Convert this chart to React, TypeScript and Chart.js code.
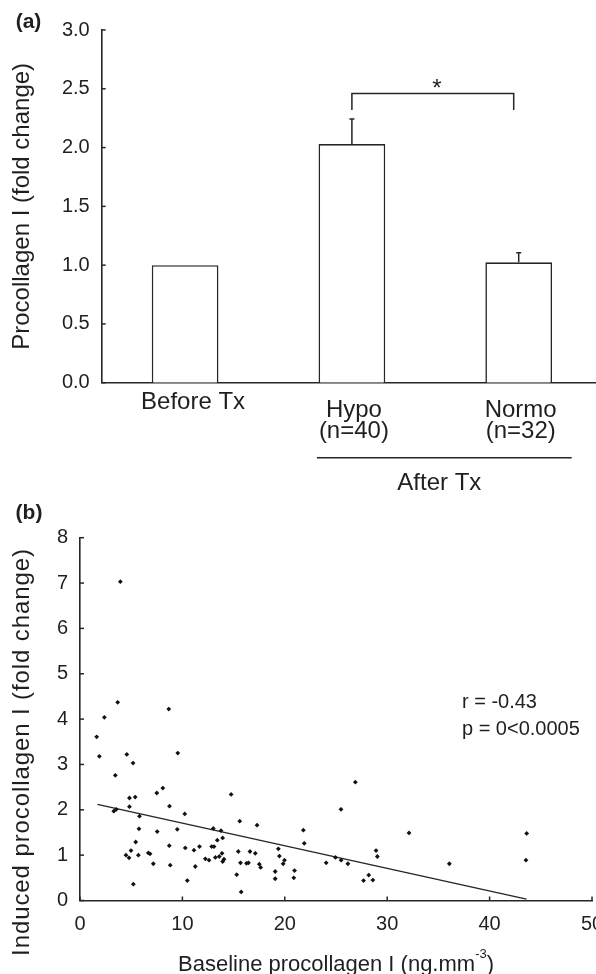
import React, { useEffect, useRef } from "react";
import { Chart, registerables } from "chart.js";

Chart.register(...registerables);

const FONT = '"Liberation Sans", Arial, Helvetica, sans-serif';
const INK = "#262626";
const TEXT = "#1f1f1f";

// ---------- Panel (a) data ----------
const groupLabels = [["Before Tx"], ["Hypo", "(n=40)"], ["Normo", "(n=32)"]];
const groupMeans = [1.0, 2.03, 1.024];
const groupUpperErr = [0, 0.212, 0.081];
const groupSpanLabel = "After Tx";
const yTicksA = [0, 0.5, 1.0, 1.5, 2.0, 2.5, 3.0];
const yTitleA = "Procollagen I (fold change)";
const sigPair = [1, 2];
const sigLevels = [2.46, 2.32];
const sigMark = "*";

// ---------- Panel (b) data ----------
const baselineX = [
  1.63, 1.89, 2.38, 3.68, 3.45, 3.3, 3.54, 4.57, 5.18, 4.83, 5.39, 4.83, 5.81, 8.67, 9.55, 7.5, 8.09, 8.74, 10.23, 14.76, 3.94,
  4.49, 4.79, 4.98, 5.44, 5.21, 5.7, 5.76, 6.67, 6.84, 7.16, 7.54, 8.72, 8.81, 9.5, 10.28, 10.48, 11.13, 11.26, 11.67, 12.24,
  12.6, 12.86, 13.09, 13.02, 13.22, 13.41, 13.6, 13.77, 13.93, 13.93, 13.87, 14.06, 15.3, 15.46, 15.6, 15.67, 15.74, 16.26,
  16.45, 16.6, 17.12, 17.29, 17.51, 17.64,
  19.37, 19.47, 19.06, 19.06, 19.97, 19.84, 20.95, 20.88, 21.81, 21.9, 24.04, 24.95, 25.5, 26.16, 25.49, 26.89, 27.69, 28.2,
  28.6, 28.91, 29.04, 32.13, 36.07, 43.62, 43.55,
];
const inducedY = [
  3.61, 3.18, 4.04, 4.37, 2.76, 1.97, 2.01, 3.22, 3.03, 2.26, 2.28, 2.07, 1.86, 4.22, 3.25, 2.37, 2.48, 2.08, 1.91, 2.34, 7.03,
  1.0, 0.94, 1.1, 1.29, 0.36, 1.0, 1.58, 1.05, 1.03, 0.81, 1.52, 1.21, 0.78, 1.57, 1.16, 0.44, 1.11, 0.75, 1.19, 0.92,
  0.89, 1.19, 1.19, 1.59, 0.95, 1.33, 0.97, 1.54, 1.38, 0.86, 1.04, 0.91, 0.57, 1.08, 1.75, 0.83, 0.19, 0.82,
  0.83, 1.08, 1.04, 1.66, 0.8, 0.73,
  1.14, 0.98, 0.64, 0.48, 0.89, 0.81, 0.66, 0.5, 1.55, 1.26, 0.83, 0.95, 0.89, 0.81, 2.01, 2.61, 0.44, 0.56,
  0.45, 1.1, 0.97, 1.49, 0.81, 1.48, 0.89,
];
const fitX = [1.7, 43.6];
const fitY = [2.12, 0.03];
const xTicksB = [0, 10, 20, 30, 40, 50];
const yTicksB = [0, 1, 2, 3, 4, 5, 6, 7, 8];
const yTitleB = "Induced procollagen I (fold change)";
const xTitleB = ["Baseline procollagen I (ng.mm", "-3", ")"];
const statLines = ["r = -0.43", "p = 0<0.0005"];
const statAnchor = [37.3, 4.24];

function drawInwardTicks(chart: any, axes: string[]) {
  const { ctx, chartArea } = chart;
  ctx.save();
  ctx.strokeStyle = INK;
  ctx.lineWidth = 1.5;
  for (const id of axes) {
    const s = chart.scales[id];
    s.ticks.forEach((t: any) => {
      const p = s.getPixelForValue(t.value);
      ctx.beginPath();
      if (s.isHorizontal()) {
        ctx.moveTo(p, chartArea.bottom);
        ctx.lineTo(p, chartArea.bottom - 4);
      } else {
        ctx.moveTo(chartArea.left, p);
        ctx.lineTo(chartArea.left + 4, p);
      }
      ctx.stroke();
    });
  }
  ctx.restore();
}

const annotA = {
  id: "annotA",
  afterDraw(chart: any) {
    const { ctx, chartArea } = chart;
    const y = chart.scales.y;
    const meta = chart.getDatasetMeta(0);
    drawInwardTicks(chart, ["y"]);
    ctx.save();
    ctx.strokeStyle = INK;
    ctx.lineWidth = 1.5;
    groupMeans.forEach((m, i) => {
      const e = groupUpperErr[i];
      if (!e) return;
      const bx = meta.data[i].x;
      const y0 = y.getPixelForValue(m);
      const y1 = y.getPixelForValue(m + e);
      ctx.beginPath();
      ctx.moveTo(bx, y0);
      ctx.lineTo(bx, y1);
      ctx.moveTo(bx - 2.5, y1);
      ctx.lineTo(bx + 2.5, y1);
      ctx.stroke();
    });
    const xa = meta.data[sigPair[0]].x;
    const xb = meta.data[sigPair[1]].x - 5;
    const yt = y.getPixelForValue(sigLevels[0]);
    const yl = y.getPixelForValue(sigLevels[1]);
    ctx.beginPath();
    ctx.moveTo(xa, yl);
    ctx.lineTo(xa, yt);
    ctx.lineTo(xb, yt);
    ctx.lineTo(xb, yl);
    ctx.stroke();

    ctx.fillStyle = TEXT;
    ctx.textAlign = "center";
    ctx.textBaseline = "alphabetic";
    ctx.font = `24px ${FONT}`;
    ctx.fillText(sigMark, (xa + xb) / 2 + 4, yt + 3);

    const b = chartArea.bottom;
    groupLabels.forEach((lines, i) => {
      const bx = meta.data[i].x;
      if (lines.length === 1) {
        ctx.fillText(lines[0], bx + 8, b + 26.6);
      } else {
        ctx.fillText(lines[0], bx + 2, b + 34);
        ctx.fillText(lines[1], bx + 2, b + 55);
      }
    });
    const x1 = meta.data[1].x;
    const x2 = meta.data[2].x;
    ctx.beginPath();
    ctx.moveTo(x1 - 35, b + 75);
    ctx.lineTo(x2 + 53, b + 75);
    ctx.stroke();
    ctx.fillText(groupSpanLabel, (x1 + x2) / 2 + 4, b + 107.3);

    // y title
    ctx.save();
    ctx.translate(29.3, (chartArea.top + chartArea.bottom) / 2);
    ctx.rotate(-Math.PI / 2);
    ctx.fillText(yTitleA, 0, 0);
    ctx.restore();

    ctx.font = `bold 21px ${FONT}`;
    ctx.fillText("(a)", 28.5, 27.6);
    ctx.restore();
  },
};

const annotB = {
  id: "annotB",
  afterDraw(chart: any) {
    const { ctx, chartArea } = chart;
    const xs = chart.scales.x;
    const ys = chart.scales.y;
    drawInwardTicks(chart, ["x", "y"]);
    ctx.save();
    ctx.fillStyle = TEXT;
    ctx.textBaseline = "alphabetic";

    ctx.textAlign = "center";
    ctx.font = `bold 21px ${FONT}`;
    ctx.fillText("(b)", 29, 39);

    // y title
    ctx.save();
    ctx.font = `24px ${FONT}`;
    (ctx as any).letterSpacing = "0.9px";
    ctx.translate(29.3, 272);
    ctx.rotate(-Math.PI / 2);
    ctx.fillText(yTitleB, 0, 0);
    ctx.restore();

    // x title with superscript
    const mainFont = `22px ${FONT}`;
    const supFont = `13px ${FONT}`;
    ctx.font = mainFont;
    const w1 = ctx.measureText(xTitleB[0]).width;
    const w3 = ctx.measureText(xTitleB[2]).width;
    ctx.font = supFont;
    const w2 = ctx.measureText(xTitleB[1]).width;
    const total = w1 + w2 + w3;
    const cx = (chartArea.left + chartArea.right) / 2;
    let sx = cx - total / 2;
    const base = 491;
    ctx.textAlign = "left";
    ctx.font = mainFont;
    ctx.fillText(xTitleB[0], sx, base);
    sx += w1;
    ctx.font = supFont;
    ctx.fillText(xTitleB[1], sx, base - 13);
    sx += w2;
    ctx.font = mainFont;
    ctx.fillText(xTitleB[2], sx, base);

    // stats
    ctx.font = `20px ${FONT}`;
    const px = xs.getPixelForValue(statAnchor[0]);
    const py = ys.getPixelForValue(statAnchor[1]);
    statLines.forEach((t, i) => ctx.fillText(t, px, py + i * 27));
    ctx.restore();
  },
};

export default function App() {
  const refA = useRef<HTMLCanvasElement>(null);
  const refB = useRef<HTMLCanvasElement>(null);

  useEffect(() => {
    const chartA = new Chart(refA.current as HTMLCanvasElement, {
      type: "bar",
      data: {
        labels: groupLabels.map((l) => l.join(" ")),
        datasets: [
          {
            data: groupMeans,
            backgroundColor: "#ffffff",
            borderColor: INK,
            borderWidth: 1.6,
            borderSkipped: "bottom",
            barPercentage: 0.4,
            categoryPercentage: 1,
          },
        ],
      },
      options: {
        responsive: false,
        animation: false,
        devicePixelRatio: 1,
        layout: { padding: { left: 0, top: 30, right: 7.9, bottom: 117.3 } },
        plugins: { legend: { display: false }, tooltip: { enabled: false } },
        scales: {
          x: {
            grid: { display: false, drawTicks: false },
            ticks: { display: false },
            border: { display: true, color: INK, width: 1.6 },
          },
          y: {
            min: 0,
            max: 3,
            afterBuildTicks: (s: any) => {
              s.ticks = yTicksA.map((v) => ({ value: v }));
            },
            ticks: {
              callback: (v: any) => Number(v).toFixed(1),
              font: { family: FONT, size: 20 },
              color: TEXT,
              padding: 12,
            },
            grid: { display: false, drawTicks: false },
            border: { display: true, color: INK, width: 1.6 },
            afterFit: (s: any) => {
              s.width = 101.7;
            },
          },
        },
      },
      plugins: [annotA],
    } as any);

    const chartB = new Chart(refB.current as HTMLCanvasElement, {
      type: "scatter",
      data: {
        datasets: [
          {
            data: baselineX.map((x, i) => ({ x, y: inducedY[i] })),
            pointStyle: "rectRot",
            pointRadius: 2.4,
            pointBackgroundColor: "#111",
            pointBorderWidth: 0,
            showLine: false,
          },
          {
            data: fitX.map((x, i) => ({ x, y: fitY[i] })),
            showLine: true,
            borderColor: INK,
            borderWidth: 1.5,
            pointRadius: 0,
          },
        ],
      },
      options: {
        responsive: false,
        animation: false,
        devicePixelRatio: 1,
        layout: { padding: { left: 0, top: 57.7, right: 4, bottom: 37.5 } },
        plugins: { legend: { display: false }, tooltip: { enabled: false } },
        scales: {
          x: {
            type: "linear",
            min: 0,
            max: 50,
            afterBuildTicks: (s: any) => {
              s.ticks = xTicksB.map((v) => ({ value: v }));
            },
            ticks: { font: { family: FONT, size: 20 }, color: TEXT, padding: 12 },
            grid: { display: false, drawTicks: false },
            border: { display: true, color: INK, width: 1.6 },
            afterFit: (s: any) => {
              s.height = 36;
              s.paddingLeft = 0;
              s.paddingRight = 0;
            },
          },
          y: {
            type: "linear",
            min: 0,
            max: 8,
            afterBuildTicks: (s: any) => {
              s.ticks = yTicksB.map((v) => ({ value: v }));
            },
            ticks: { font: { family: FONT, size: 20 }, color: TEXT, padding: 12 },
            grid: { display: false, drawTicks: false },
            border: { display: true, color: INK, width: 1.6 },
            afterFit: (s: any) => {
              s.width = 80;
            },
          },
        },
      },
      plugins: [annotB],
    } as any);

    return () => {
      chartA.destroy();
      chartB.destroy();
    };
  }, []);

  return (
    <div
      style={{
        position: "absolute",
        left: 0,
        top: 0,
        width: 596,
        height: 974,
        overflow: "hidden",
        background: "#fff",
      }}
    >
      <canvas
        ref={refA}
        width={610}
        height={500}
        style={{ position: "absolute", left: 0, top: 0, width: 610, height: 500 }}
      />
      <canvas
        ref={refB}
        width={596}
        height={494}
        style={{ position: "absolute", left: 0, top: 480, width: 596, height: 494 }}
      />
    </div>
  );
}
